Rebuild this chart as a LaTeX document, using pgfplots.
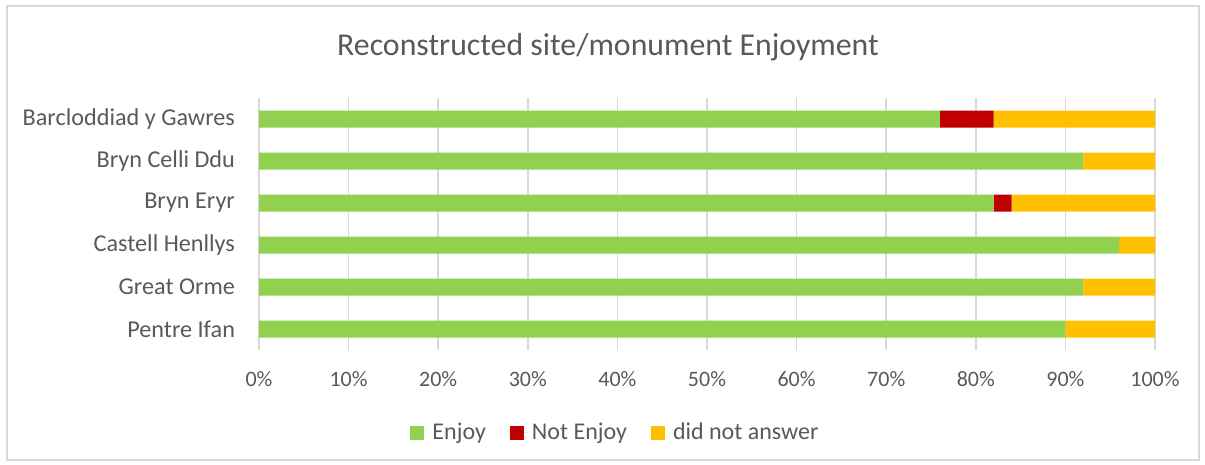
\documentclass[border=0pt]{standalone}
\usepackage{pgfplots}
\pgfplotsset{compat=1.18}
\usepackage{fontspec}
\setmainfont{Carlito}
\definecolor{enjoy}{HTML}{92D050}
\definecolor{notenjoy}{HTML}{C00000}
\definecolor{noanswer}{HTML}{FFC000}
\definecolor{txt}{HTML}{595959}
\definecolor{gridc}{HTML}{D9D9D9}
\begin{document}
\begin{tikzpicture}[x=0.5pt,y=0.5pt]
\path[use as bounding box] (0,0) rectangle (1205,465);
\draw[gridc, line width=0.75pt] (7,5) rectangle (1199,459);
\node[text=txt, font=\fontsize{15.9}{19}\selectfont] at (608,418) {Reconstructed site/monument Enjoyment};
\begin{axis}[
    at={(129.5pt,57.5pt)}, anchor=south west,
    scale only axis, width=448pt, height=126pt,
    xbar stacked, bar width=8.5pt,
    xmin=0, xmax=100, ymin=-0.5, ymax=5.5, y dir=reverse,
    ytick={0,...,5},
    yticklabels={Barcloddiad y Gawres, Bryn Celli Ddu, Bryn Eryr, Castell Henllys, Great Orme, Pentre Ifan},
    xtick={0,10,...,100},
    xticklabel={\pgfmathprintnumber{\tick}\%},
    /pgf/number format/assume math mode=true,
    axis line style={draw=none},
    tick style={draw=none},
    xmajorgrids, grid style={gridc, line width=0.75pt},
    ticklabel style={text=txt},
    xticklabel style={yshift=-7pt, font=\fontsize{11}{13}\selectfont},
    yticklabel style={xshift=-8.5pt, font=\fontsize{12.1}{14}\selectfont},
    legend columns=3,
    legend style={at={(0.399,-0.329)}, anchor=center, draw=none, fill=none,
        font=\fontsize{12}{14}\selectfont, text=txt,
        /tikz/every even column/.append style={column sep=10pt}},
    legend image code/.code={\fill[#1] (0pt,-3.5pt) rectangle (7pt,3.5pt);
        \path (0pt,0pt) -- (9pt,0pt);},
]
\addplot[fill=enjoy, draw=none] coordinates {(76,0) (92,1) (82,2) (96,3) (92,4) (90,5)};
\addlegendentry{Enjoy}
\addplot[fill=notenjoy, draw=none] coordinates {(6,0) (0,1) (2,2) (0,3) (0,4) (0,5)};
\addlegendentry{Not Enjoy}
\addplot[fill=noanswer, draw=none] coordinates {(18,0) (8,1) (16,2) (4,3) (8,4) (10,5)};
\addlegendentry{did not answer}
\end{axis}
\end{tikzpicture}
\end{document}
